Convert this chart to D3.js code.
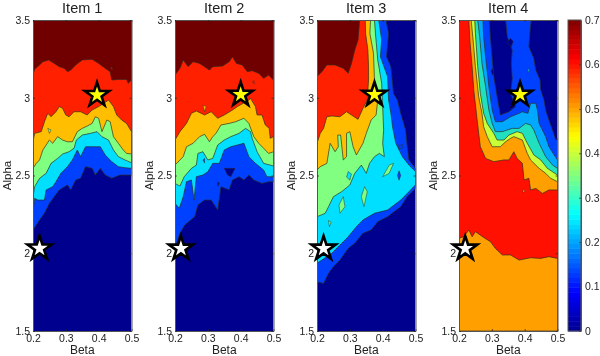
<!DOCTYPE html>
<html>
<head>
<meta charset="utf-8">
<script src="https://d3js.org/d3.v7.min.js"></script>
<style>
  body { margin: 0; background: #fff; }
  svg { display: block; filter: blur(0.5px); }
  text { font-family: "Liberation Sans", Arial, sans-serif; fill: #222; }
</style>
</head>
<body>
<script>
// contour regions as [beta, alpha] outlines,
// one per level, lowest level first
const item1Levels = [
  [[.2,2.149],[.22,2.214],[.235,2.257],[.25,2.321],[.265,2.364],[.28,2.407],[.305,2.439],[.315,2.407],[.33,2.471],[.345,2.482],[.36,2.557],[.38,2.546],[.39,2.503],[.405,2.546],[.42,2.503],[.44,2.482],[.465,2.503],[.5,2.503],[.5,3.5],[.2,3.5]],
  [[.2,2.267],[.205,2.353],[.215,2.342],[.235,2.342],[.24,2.407],[.26,2.428],[.27,2.46],[.285,2.514],[.305,2.557],[.32,2.6],[.335,2.664],[.345,2.621],[.36,2.685],[.38,2.685],[.405,2.685],[.42,2.632],[.44,2.589],[.46,2.557],[.48,2.55],[.5,2.546],[.5,3.5],[.2,3.5]],
  [[.2,2.364],[.205,2.428],[.22,2.482],[.24,2.514],[.255,2.578],[.275,2.61],[.29,2.638],[.31,2.653],[.325,2.675],[.332,2.728],[.35,2.76],[.375,2.771],[.395,2.782],[.41,2.75],[.43,2.728],[.445,2.664],[.46,2.621],[.48,2.6],[.5,2.582],[.5,3.5],[.2,3.5]],
  [[.2,2.546],[.21,2.578],[.22,2.6],[.23,2.664],[.25,2.728],[.26,2.707],[.275,2.75],[.29,2.728],[.305,2.717],[.32,2.717],[.335,2.782],[.35,2.803],[.365,2.818],[.38,2.835],[.39,2.878],[.40,2.868],[.41,2.782],[.425,2.857],[.435,2.846],[.445,2.75],[.46,2.707],[.475,2.664],[.485,2.642],[.5,2.638],[.5,3.5],[.2,3.5]],
  [[.2,2.717],[.205,2.771],[.225,2.782],[.235,2.846],[.245,2.9],[.255,2.878],[.27,2.91],[.28,2.943],[.29,2.932],[.30,2.889],[.31,2.878],[.325,2.91],[.345,2.91],[.365,2.889],[.38,2.921],[.40,2.943],[.43,2.985],[.445,2.943],[.455,2.889],[.47,2.857],[.485,2.835],[.5,2.782],[.5,3.5],[.2,3.5]],
  [[.2,3.146],[.205,3.183],[.22,3.211],[.23,3.232],[.248,3.243],[.265,3.221],[.28,3.2],[.295,3.189],[.305,3.168],[.315,3.178],[.33,3.211],[.35,3.243],[.38,3.247],[.40,3.221],[.42,3.189],[.435,3.168],[.44,3.114],[.46,3.118],[.485,3.118],[.49,3.093],[.5,3.114],[.5,3.5],[.2,3.5]]
];
const item1Islands = [
  [3, [[.245,2.803],[.255,2.793],[.25,2.771]]],
  [5, [[.437,3.19],[.44,3.2],[.442,3.18]]]
];

const item2Levels = [
  [[.2,2.031],[.215,2.128],[.23,2.182],[.26,2.235],[.27,2.31],[.29,2.342],[.31,2.342],[.33,2.278],[.34,2.428],[.365,2.407],[.375,2.471],[.395,2.492],[.41,2.471],[.425,2.503],[.44,2.471],[.465,2.449],[.485,2.46],[.5,2.46],[.5,3.5],[.2,3.5]],
  [[.2,2.321],[.213,2.289],[.225,2.364],[.235,2.46],[.25,2.471],[.258,2.342],[.265,2.492],[.285,2.503],[.30,2.524],[.315,2.578],[.335,2.578],[.35,2.664],[.37,2.685],[.39,2.696],[.41,2.707],[.425,2.621],[.445,2.578],[.47,2.535],[.48,2.492],[.5,2.492],[.5,3.5],[.2,3.5]],
  [[.2,2.449],[.215,2.432],[.228,2.492],[.25,2.546],[.265,2.567],[.27,2.642],[.285,2.653],[.30,2.6],[.315,2.61],[.33,2.696],[.35,2.728],[.37,2.75],[.395,2.771],[.415,2.803],[.43,2.782],[.435,2.739],[.45,2.653],[.47,2.578],[.49,2.567],[.5,2.561],[.5,3.5],[.2,3.5]],
  [[.2,2.567],[.225,2.621],[.235,2.685],[.255,2.707],[.275,2.75],[.29,2.765],[.305,2.717],[.315,2.75],[.325,2.771],[.34,2.825],[.365,2.835],[.385,2.846],[.41,2.868],[.425,2.835],[.44,2.75],[.455,2.707],[.47,2.675],[.485,2.642],[.5,2.653],[.5,3.5],[.2,3.5]],
  [[.2,2.728],[.215,2.782],[.235,2.835],[.25,2.9],[.265,2.915],[.29,2.889],[.31,2.91],[.33,2.868],[.35,2.889],[.375,2.921],[.39,2.943],[.425,2.985],[.43,2.996],[.445,2.943],[.45,2.889],[.465,2.889],[.475,2.825],[.487,2.803],[.49,2.739],[.5,2.75],[.5,3.5],[.2,3.5]],
  [[.2,3.146],[.215,3.189],[.225,3.243],[.24,3.2],[.255,3.232],[.275,3.221],[.29,3.2],[.305,3.178],[.315,3.2],[.345,3.204],[.365,3.232],[.375,3.264],[.387,3.221],[.405,3.211],[.42,3.168],[.435,3.174],[.455,3.157],[.47,3.125],[.485,3.146],[.5,3.114],[.5,3.5],[.2,3.5]]
];
const item2Islands = [
  [0, [[.35,2.546],[.383,2.546],[.37,2.492],[.36,2.503]]],
  [0, [[.33,2.46],[.335,2.45],[.33,2.43]]],
  [4, [[.285,2.953],[.295,2.943],[.29,2.91]]],
  [1, [[.285,2.6],[.29,2.61],[.29,2.58]]],
  [5, [[.436,3.1],[.44,3.11],[.442,3.09]]]
];

const item3Levels = [
  [[.2,3.5],[.41,3.5],[.418,3.414],[.412,3.264],[.425,3.2],[.433,3.028],[.445,2.985],[.455,2.9],[.47,2.792],[.475,2.685],[.48,2.6],[.5,2.546],[.5,2.417],[.475,2.364],[.455,2.299],[.415,2.235],[.385,2.203],[.365,2.149],[.34,2.128],[.315,2.064],[.295,2.031],[.27,1.956],[.25,1.913],[.235,1.87],[.22,1.806],[.2,1.817]],
  [[.2,3.5],[.388,3.5],[.397,3.371],[.393,3.264],[.415,3.136],[.418,2.985],[.425,2.9],[.43,2.814],[.44,2.707],[.46,2.621],[.48,2.567],[.5,2.525],[.5,2.44],[.48,2.396],[.455,2.342],[.415,2.278],[.375,2.257],[.34,2.214],[.32,2.171],[.295,2.106],[.27,2.053],[.245,2],[.2,1.935]],
  [[.2,3.5],[.375,3.5],[.378,3.414],[.385,3.243],[.397,3.093],[.40,2.943],[.403,2.792],[.40,2.707],[.405,2.621],[.39,2.642],[.375,2.621],[.36,2.578],[.35,2.514],[.335,2.567],[.315,2.514],[.30,2.439],[.275,2.396],[.25,2.364],[.235,2.299],[.225,2.257],[.2,2.235]],
  [[.2,3.5],[.363,3.5],[.361,3.414],[.372,3.286],[.375,3.114],[.385,2.985],[.38,2.889],[.365,2.857],[.35,2.771],[.34,2.707],[.32,2.632],[.31,2.685],[.30,2.782],[.29,2.771],[.29,2.621],[.28,2.6],[.272,2.76],[.263,2.76],[.265,2.685],[.255,2.653],[.24,2.707],[.23,2.578],[.21,2.557],[.2,2.535]],
  [[.2,3.5],[.347,3.5],[.348,3.414],[.355,3.307],[.357,3.2],[.357,3.114],[.353,2.985],[.34,2.932],[.325,2.861],[.305,2.889],[.29,2.91],[.27,2.878],[.245,2.883],[.23,2.878],[.22,2.803],[.21,2.771],[.2,2.707]],
  [[.2,3.5],[.33,3.5],[.325,3.371],[.315,3.307],[.305,3.221],[.295,3.157],[.28,3.189],[.255,3.211],[.23,3.211],[.215,3.168],[.2,3.136]]
];
const item3Islands = [
  [3, [[.27,2.257],[.267,2.31],[.28,2.364],[.285,2.299]]],
  [3, [[.345,2.428],[.353,2.396],[.343,2.299],[.335,2.364]]],
  [3, [[.40,2.492],[.42,2.567],[.433,2.578],[.42,2.514]]],
  [3, [[.235,2.21],[.243,2.2],[.238,2.17]]],
  [2, [[.295,2.525],[.305,2.51],[.30,2.47],[.29,2.49]]],
  [1, [[.445,2.5],[.45,2.53],[.455,2.5],[.45,2.47]]],
  [1, [[.447,2.69],[.46,2.7],[.462,2.68],[.45,2.67]]]
];

const item4Levels = [
  [[.2,3.5],[.292,3.5],[.298,3.328],[.306,3.136],[.318,2.985],[.326,2.889],[.352,2.91],[.372,2.943],[.357,3.028],[.362,3.125],[.359,3.221],[.362,3.307],[.347,3.393],[.342,3.5],[.42,3.5],[.416,3.414],[.413,3.328],[.428,3.253],[.434,3.178],[.447,3.114],[.449,3.05],[.459,2.985],[.464,2.921],[.474,2.857],[.485,2.792],[.495,2.728],[.5,2.739],[.5,1.5],[.2,1.5]],
  [[.2,3.5],[.273,3.5],[.275,3.393],[.281,3.264],[.291,3.071],[.301,2.921],[.311,2.846],[.332,2.846],[.357,2.878],[.383,2.9],[.393,2.91],[.41,2.9],[.418,2.964],[.434,2.964],[.439,2.921],[.444,2.835],[.464,2.75],[.474,2.685],[.49,2.632],[.5,2.6],[.5,1.5],[.2,1.5]],
  [[.2,3.5],[.257,3.5],[.263,3.393],[.27,3.221],[.281,3.071],[.291,2.921],[.301,2.835],[.311,2.782],[.332,2.782],[.362,2.803],[.383,2.803],[.403,2.835],[.418,2.825],[.428,2.792],[.444,2.707],[.464,2.621],[.485,2.567],[.5,2.546],[.5,1.5],[.2,1.5]],
  [[.2,3.5],[.248,3.5],[.25,3.414],[.257,3.2],[.265,3.028],[.275,2.9],[.286,2.835],[.306,2.771],[.316,2.728],[.337,2.728],[.352,2.76],[.377,2.782],[.393,2.771],[.408,2.707],[.428,2.632],[.449,2.6],[.469,2.546],[.5,2.503],[.5,1.5],[.2,1.5]],
  [[.2,3.5],[.237,3.5],[.243,3.371],[.25,3.2],[.26,3.007],[.27,2.9],[.275,2.814],[.286,2.75],[.301,2.685],[.326,2.685],[.342,2.717],[.357,2.739],[.367,2.75],[.393,2.728],[.408,2.642],[.418,2.6],[.444,2.546],[.464,2.514],[.479,2.482],[.5,2.46],[.5,1.5],[.2,1.5]],
  [[.2,3.5],[.23,3.5],[.233,3.371],[.24,3.2],[.245,3.05],[.253,2.9],[.26,2.771],[.265,2.685],[.281,2.61],[.306,2.589],[.337,2.6],[.352,2.6],[.367,2.653],[.377,2.61],[.393,2.578],[.398,2.471],[.413,2.482],[.418,2.407],[.434,2.417],[.454,2.385],[.474,2.407],[.5,2.407],[.5,1.967],[.474,1.978],[.449,1.967],[.418,1.971],[.383,1.956],[.357,1.989],[.332,1.989],[.311,2.031],[.296,2.074],[.275,2.102],[.25,2.139],[.24,2.106],[.23,2.149],[.214,2.106],[.2,2.096]]
];
const item4Islands = [
  [0, [[.345,3.354],[.357,3.382],[.365,3.361],[.359,3.328]]],
  [0, [[.298,3.17],[.302,3.19],[.306,3.16],[.302,3.145]]],
  [2, [[.409,3.18],[.413,3.19],[.416,3.17],[.41,3.165]]],
  [4, [[.395,2.41],[.4,2.4],[.395,2.39]]]
];

const itemTitles = ["Item 1", "Item 2", "Item 3", "Item 4"];
const yellowStars = [[.395, 3.018], [.40, 3.02], [.375, 3.02], [.386, 3.02]];
const whiteStars = [[.22, 2.031], [.218, 2.03], [.22, 2.03], [.219, 2.03]];
const betaTicks = [.2, .3, .4, .5];
const alphaTicks = [1.5, 2, 2.5, 3, 3.5];
const colorTicks = [0, .1, .2, .3, .4, .5, .6, .7];

// band fills: first three items share one set, item 4 has its own
const bandColors = ["#00008f", "#0040ff", "#00dfff", "#80ff80", "#ffbf00", "#ff2000", "#700000"];
const bandColors4 = ["#00008f", "#0040ff", "#00a8ff", "#20e0c0", "#c8ff38", "#ff9f00", "#ff1000"];
const jetStops = ["#00008f", "#0000ff", "#00ffff", "#ffff00", "#ff0000", "#7f0000"];
const jetDomain = [0, .0875, .2625, .4375, .6125, .7];

const items = [
  { levels: item1Levels, islands: item1Islands, colors: bandColors, left: 33 },
  { levels: item2Levels, islands: item2Islands, colors: bandColors, left: 175 },
  { levels: item3Levels, islands: item3Islands, colors: bandColors, left: 317 },
  { levels: item4Levels, islands: item4Islands, colors: bandColors4, left: 459 }
];

const plotW = 98.5;
const plotTop = 20;
const plotBottom = 331;

const svg = d3.select("body").append("svg")
  .attr("width", 600)
  .attr("height", 356);

const y = d3.scaleLinear().domain([1.5, 3.5]).range([plotBottom, plotTop]);
const star = d3.symbol().type(d3.symbolStar).size(180);

items.forEach(function(item, i) {
  const x = d3.scaleLinear().domain([.2, .5]).range([0, plotW]);
  const g = svg.append("g").attr("transform", "translate(" + item.left + ",0)");

  const clipId = "clip" + i;
  g.append("clipPath").attr("id", clipId)
    .append("rect").attr("y", plotTop).attr("width", plotW).attr("height", plotBottom - plotTop);

  const line = d3.line()
    .x(function(d) { return x(d[0]); })
    .y(function(d) { return y(d[1]); });

  const plot = g.append("g").attr("clip-path", "url(#" + clipId + ")");
  plot.append("rect")
    .attr("y", plotTop).attr("width", plotW).attr("height", plotBottom - plotTop)
    .attr("fill", item.colors[0]);

  plot.selectAll("path.level")
    .data(item.levels)
    .enter()
    .append("path")
    .attr("class", "level")
    .attr("d", function(d) { return line(d) + "Z"; })
    .attr("fill", function(d, k) { return item.colors[k + 1]; })
    .attr("stroke", "#2c2c20")
    .attr("stroke-width", .8)
    .attr("stroke-opacity", .85);

  plot.selectAll("path.island")
    .data(item.islands)
    .enter()
    .append("path")
    .attr("class", "island")
    .attr("d", function(d) { return line(d[1]) + "Z"; })
    .attr("fill", function(d) { return item.colors[d[0]]; })
    .attr("stroke", "#2c2c20")
    .attr("stroke-width", .6)
    .attr("stroke-opacity", .8);

  // box and ticks on all four sides
  const xBottom = d3.axisBottom(x).tickValues(betaTicks).tickFormat(d3.format(".1f"))
    .tickSizeInner(-2).tickSizeOuter(0).tickPadding(3.5);
  const yLeft = d3.axisLeft(y).tickValues(alphaTicks).tickFormat(d3.format("~g"))
    .tickSizeInner(-2).tickSizeOuter(0).tickPadding(3);

  const gx = g.append("g").attr("transform", "translate(0," + plotBottom + ")").call(xBottom);
  const gy = g.append("g").call(yLeft);
  g.append("g").attr("transform", "translate(0," + plotTop + ")")
    .call(d3.axisTop(x).tickValues(betaTicks).tickFormat("").tickSizeInner(-2).tickSizeOuter(0));
  g.append("g").attr("transform", "translate(" + plotW + ",0)")
    .call(d3.axisRight(y).tickValues(alphaTicks).tickFormat("").tickSizeInner(-2).tickSizeOuter(0));

  g.selectAll(".domain").attr("stroke", "#555").attr("stroke-width", 1);
  g.selectAll(".tick line").attr("stroke", "#222").attr("stroke-width", .7);
  gx.selectAll("text").attr("font-size", 10.5).attr("font-family", null);
  gy.selectAll("text").attr("font-size", 10.5).attr("font-family", null);

  g.append("text").attr("x", plotW / 2).attr("y", 13)
    .attr("text-anchor", "middle").attr("font-size", 14.5)
    .text(itemTitles[i]);
  g.append("text").attr("x", plotW / 2).attr("y", 354)
    .attr("text-anchor", "middle").attr("font-size", 12)
    .text("Beta");
  g.append("text")
    .attr("transform", "translate(-22," + (plotBottom + plotTop) / 2 + ") rotate(-90)")
    .attr("text-anchor", "middle").attr("font-size", 11.5)
    .text("Alpha");

  g.append("path")
    .attr("d", star)
    .attr("transform", "translate(" + x(yellowStars[i][0]) + "," + y(yellowStars[i][1]) + ")")
    .attr("fill", "#ffff00").attr("stroke", "#000").attr("stroke-width", 2.6);
  g.append("path")
    .attr("d", star)
    .attr("transform", "translate(" + x(whiteStars[i][0]) + "," + y(whiteStars[i][1]) + ")")
    .attr("fill", "#fff").attr("stroke", "#000").attr("stroke-width", 2.6);
});

// colour bar
const barX = 568;
const barW = 13;
const barY = d3.scaleLinear().domain([0, .7]).range([plotBottom, plotTop]);
const jet = d3.scaleLinear().domain(jetDomain).range(jetStops);
const barSteps = d3.range(64);

svg.selectAll("rect.bar")
  .data(barSteps)
  .enter()
  .append("rect")
  .attr("class", "bar")
  .attr("x", barX)
  .attr("width", barW)
  .attr("y", function(d) { return barY((d + 1) / 64 * .7); })
  .attr("height", (plotBottom - plotTop) / 64 + .5)
  .attr("fill", function(d) { return jet((d + .5) / 64 * .7); });

const barAxis = svg.append("g")
  .attr("transform", "translate(" + (barX + barW) + ",0)")
  .call(d3.axisRight(barY).tickValues(colorTicks).tickFormat(d3.format("~g"))
    .tickSizeInner(-2).tickSizeOuter(0).tickPadding(4));
barAxis.selectAll("text").attr("font-size", 10.5).attr("font-family", null);
barAxis.selectAll(".tick line").attr("stroke", "#222").attr("stroke-width", .7);
barAxis.select(".domain").attr("stroke", "#555");
svg.append("rect")
  .attr("x", barX).attr("y", plotTop).attr("width", barW).attr("height", plotBottom - plotTop)
  .attr("fill", "none").attr("stroke", "#555");
</script>
</body>
</html>
